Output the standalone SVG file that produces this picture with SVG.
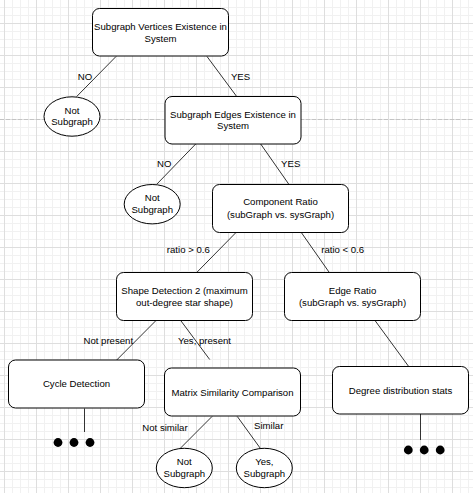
<svg xmlns="http://www.w3.org/2000/svg" width="473" height="493" viewBox="0 0 473 493">
  <defs>
    <pattern id="grid" patternUnits="userSpaceOnUse" x="4" y="23" width="32" height="32">
      <path d="M8.5 0V32M16.5 0V32M24.5 0V32M0 8.5H32M0 16.5H32M0 24.5H32" stroke="#f1f1f1" stroke-width="1" fill="none"/>
      <path d="M0.5 0V32M0 0.5H32" stroke="#dedede" stroke-width="1" fill="none"/>
    </pattern>
    <style>
      .box { fill: #ffffff; stroke: #000000; stroke-width: 1; }
      .edge { stroke: #333333; stroke-width: 1; fill: none; }
      .t { font-family: "Liberation Sans", Arial, Helvetica, sans-serif; font-size: 9.6px; fill: #000000; text-anchor: middle; dominant-baseline: central; }
      .dot { fill: #000000; }
    </style>
  </defs>

  <!-- canvas background, grid and page break -->
  <rect x="0" y="0" width="473" height="493" fill="#ffffff"/>
  <rect x="0" y="0" width="473" height="493" fill="url(#grid)"/>
  <line x1="0" y1="119.5" x2="473" y2="119.5" stroke="#c4c4c4" stroke-width="1" stroke-dasharray="4 2"/>

  <!-- connectors -->
  <g id="connectors">
    <line class="edge" x1="116" y1="56.5" x2="76.7" y2="96.5"/>
    <line class="edge" x1="207" y1="56.5" x2="236.7" y2="96.5"/>
    <line class="edge" x1="195.7" y1="144" x2="156.7" y2="184.3"/>
    <line class="edge" x1="260.7" y1="144" x2="289" y2="184.5"/>
    <line class="edge" x1="236" y1="232.5" x2="196.7" y2="272.5"/>
    <line class="edge" x1="301.3" y1="232.5" x2="329.3" y2="272.5"/>
    <line class="edge" x1="156" y1="320.5" x2="116.7" y2="360"/>
    <line class="edge" x1="180.7" y1="320.5" x2="209.7" y2="359.5"/>
    <line class="edge" x1="375" y1="320.5" x2="408.7" y2="366.5"/>
    <line class="edge" x1="212" y1="416.5" x2="180.3" y2="448.3"/>
    <line class="edge" x1="237.3" y1="416.5" x2="260.3" y2="448.3"/>
    <line class="edge" x1="84.5" y1="408.5" x2="84.5" y2="432"/>
    <line class="edge" x1="420.5" y1="414" x2="420.5" y2="440"/>

    <text class="t" x="85" y="76">NO</text>
    <text class="t" x="240.5" y="76">YES</text>
    <text class="t" x="164.3" y="163.7">NO</text>
    <text class="t" x="290.7" y="163.7">YES</text>
    <text class="t" x="188.3" y="249.7">ratio &gt; 0.6</text>
    <text class="t" x="342.7" y="249.7">ratio &lt; 0.6</text>
    <text class="t" x="108.3" y="340.7">Not present</text>
    <text class="t" x="204.5" y="340.7">Yes, present</text>
    <text class="t" x="165" y="427.7">Not similar</text>
    <text class="t" x="268.7" y="425.7">Similar</text>
  </g>

  <g id="vertices-check">
    <rect class="box" x="92.5" y="8.5" width="136" height="47.5" rx="7"/>
    <text class="t" x="160.5" y="26">Subgraph Vertices Existence in</text>
    <text class="t" x="160.5" y="38">System</text>
  </g>

  <g id="not-subgraph-1">
    <ellipse class="box" cx="72" cy="116.5" rx="28" ry="19.7"/>
    <text class="t" x="72" y="110">Not</text>
    <text class="t" x="72" y="121.7">Subgraph</text>
  </g>

  <g id="edges-check">
    <rect class="box" x="165" y="96.5" width="136" height="47.5" rx="7"/>
    <text class="t" x="233" y="114">Subgraph Edges Existence in</text>
    <text class="t" x="233" y="125.8">System</text>
  </g>

  <g id="not-subgraph-2">
    <ellipse class="box" cx="152.2" cy="204.2" rx="28" ry="19.7"/>
    <text class="t" x="152.2" y="197.7">Not</text>
    <text class="t" x="152.2" y="209.7">Subgraph</text>
  </g>

  <g id="component-ratio">
    <rect class="box" x="212.5" y="184.5" width="136" height="48" rx="7"/>
    <text class="t" x="280.5" y="201.7">Component Ratio</text>
    <text class="t" x="280.5" y="214">(subGraph vs. sysGraph)</text>
  </g>

  <g id="shape-detection">
    <rect class="box" x="116.5" y="272.5" width="136" height="48" rx="7"/>
    <text class="t" x="184.5" y="290">Shape Detection 2 (maximum</text>
    <text class="t" x="184.5" y="302.7">out-degree star shape)</text>
  </g>

  <g id="edge-ratio">
    <rect class="box" x="284.5" y="272.5" width="136" height="48" rx="7"/>
    <text class="t" x="352.5" y="290">Edge Ratio</text>
    <text class="t" x="352.5" y="302.7">(subGraph vs. sysGraph)</text>
  </g>

  <g id="cycle-detection">
    <rect class="box" x="8.5" y="360" width="136" height="48" rx="7"/>
    <text class="t" x="76.5" y="383.7">Cycle Detection</text>
    <circle class="dot" cx="58" cy="442.5" r="4.4"/>
    <circle class="dot" cx="74" cy="442.5" r="4.4"/>
    <circle class="dot" cx="90" cy="442.5" r="4.4"/>
  </g>

  <g id="matrix-similarity">
    <rect class="box" x="164.5" y="368" width="136" height="48" rx="7"/>
    <text class="t" x="232.5" y="392">Matrix Similarity Comparison</text>
  </g>

  <g id="degree-distribution">
    <rect class="box" x="332.5" y="366.5" width="136" height="47.5" rx="7"/>
    <text class="t" x="400.5" y="390">Degree distribution stats</text>
    <circle class="dot" cx="408.3" cy="450" r="4.4"/>
    <circle class="dot" cx="424.2" cy="450" r="4.4"/>
    <circle class="dot" cx="440.2" cy="450" r="4.4"/>
  </g>

  <g id="not-subgraph-3">
    <ellipse class="box" cx="184.3" cy="468" rx="28" ry="19.7"/>
    <text class="t" x="184.3" y="461.3">Not</text>
    <text class="t" x="184.3" y="473.7">Subgraph</text>
  </g>

  <g id="yes-subgraph">
    <ellipse class="box" cx="264.3" cy="468" rx="28" ry="19.7"/>
    <text class="t" x="264.3" y="461.3">Yes,</text>
    <text class="t" x="264.3" y="473.7">Subgraph</text>
  </g>
</svg>
